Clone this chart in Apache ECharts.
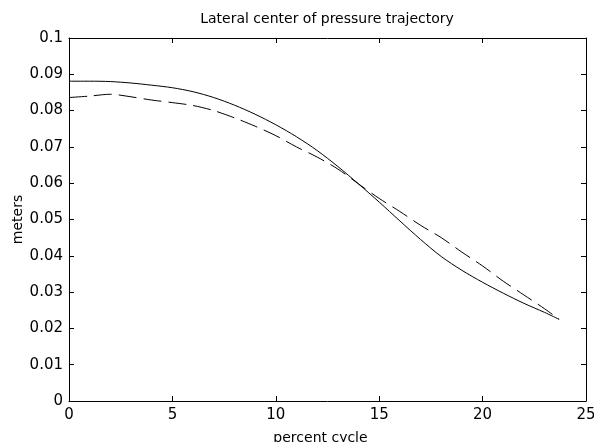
<!DOCTYPE html>
<html>
<head>
<meta charset="utf-8">
<script src="https://cdn.jsdelivr.net/npm/echarts@6/dist/echarts.min.js"></script>
<style>html,body{margin:0;padding:0;background:#fff;}#c{width:594px;height:442px;}</style>
</head>
<body>
<div id="c"></div>
<script>
const titleText = 'Lateral center of pressure trajectory';
const xName = 'percent cycle';
const yName = 'meters';
const xSolid = [0, 1, 2, 3, 4, 5, 6, 7, 8, 9, 10, 11, 12, 13, 14, 15, 16, 17, 18, 19, 20, 21, 22, 23, 23.7];
const ySolid = [0.0881, 0.0881, 0.0880, 0.0876, 0.0870, 0.0863, 0.0852, 0.0836, 0.0815, 0.0790, 0.0761, 0.0728, 0.0690, 0.0646, 0.0598, 0.0548, 0.0496, 0.0445, 0.0398, 0.0360, 0.0327, 0.0297, 0.0269, 0.0244, 0.0225];
const xDashed = [0, 1, 2, 3, 4, 5, 6, 7, 8, 9, 10, 11, 12, 13, 14, 15, 16, 17, 18, 19, 20, 21, 22, 23, 23.7];
const yDashed = [0.0836, 0.0840, 0.0845, 0.0838, 0.0829, 0.0822, 0.0814, 0.0800, 0.0780, 0.0757, 0.0731, 0.0700, 0.0672, 0.0639, 0.0598, 0.0558, 0.0522, 0.0484, 0.0450, 0.0410, 0.0372, 0.0330, 0.0292, 0.0254, 0.0225];

const chart = echarts.init(document.getElementById('c'), null, {renderer: 'canvas'});
const font = 'DejaVu Sans';
const axisCommon = {
  axisLine: {show: true, onZero: false, lineStyle: {color: '#000', width: 1}},
  axisTick: {show: true, inside: true, length: 5, lineStyle: {color: '#000'}},
  splitLine: {show: false}
};
chart.setOption({
  animation: false,
  backgroundColor: '#fff',
  title: {
    text: titleText, left: 322, top: 7, textAlign: 'center',
    textStyle: {fontFamily: font, fontSize: 14, fontWeight: 'normal', color: '#000'}
  },
  grid: {left: 69, right: 8, top: 38, bottom: 41, outerBoundsMode: 'none', containLabel: false},
  xAxis: [
    Object.assign({
      type: 'value', min: 0, max: 25, interval: 5, position: 'bottom',
      name: xName, nameLocation: 'middle', nameGap: 30, nameMoveOverlap: false,
      nameTextStyle: {fontFamily: font, fontSize: 14, color: '#000', padding: [0, 14, 0, 0]},
      axisLabel: {fontFamily: font, fontSize: 15, color: '#000', margin: 7}
    }, axisCommon),
    Object.assign({
      type: 'value', min: 0, max: 25, interval: 5, position: 'top',
      axisLabel: {show: false}
    }, axisCommon)
  ],
  yAxis: [
    Object.assign({
      type: 'value', min: 0, max: 0.1, interval: 0.01, position: 'left',
      name: yName, nameLocation: 'middle', nameGap: 44, nameRotate: 90, nameMoveOverlap: false,
      nameTextStyle: {fontFamily: font, fontSize: 14, color: '#000'},
      axisLabel: {fontFamily: font, fontSize: 15, color: '#000', margin: 6,
        formatter: v => String(+v.toFixed(2))}
    }, axisCommon),
    Object.assign({
      type: 'value', min: 0, max: 0.1, interval: 0.01, position: 'right',
      axisLabel: {show: false}
    }, axisCommon)
  ],
  series: [
    {
      type: 'line', name: 'solid', showSymbol: false, smooth: 0.3,
      data: xSolid.map((x, i) => [x, ySolid[i]]),
      lineStyle: {color: '#000', width: 1, type: 'solid'}
    },
    {
      type: 'line', name: 'dashed', showSymbol: false, smooth: 0.3,
      data: xDashed.map((x, i) => [x, yDashed[i]]),
      lineStyle: {color: '#000', width: 1, type: [18, 7]}
    }
  ]
});
</script>
</body>
</html>
